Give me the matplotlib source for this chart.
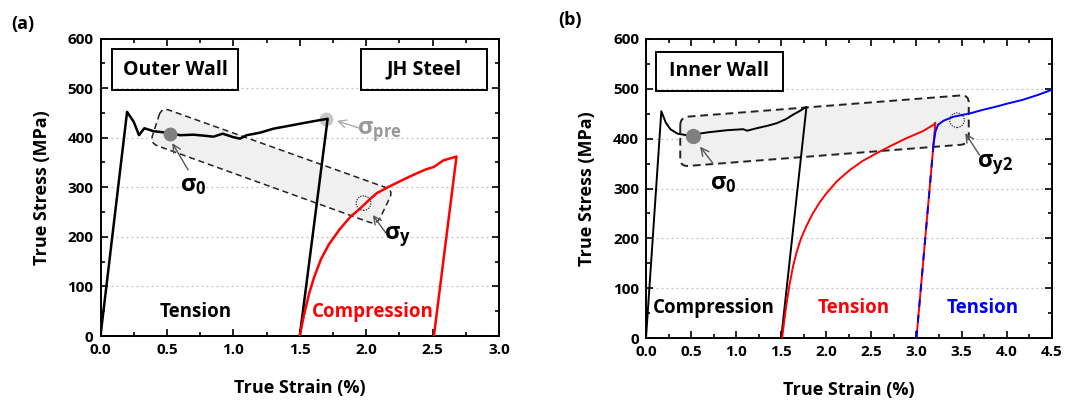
import matplotlib
matplotlib.use("Agg")
import matplotlib.pyplot as plt
import numpy as np
from matplotlib.path import Path
from matplotlib.patches import PathPatch
from matplotlib.ticker import MultipleLocator

FONT = 'Open Sans'
plt.rcParams['font.family'] = [FONT, 'DejaVu Sans']
plt.rcParams['font.weight'] = 'bold'
plt.rcParams['mathtext.fontset'] = 'custom'
plt.rcParams['mathtext.rm'] = FONT + ':bold'
plt.rcParams['mathtext.it'] = 'DejaVu Sans'

# ---------------- data: panel (a) Outer Wall ----------------
a_ten_x = [0, 0.2, 0.25, 0.29, 0.33, 0.4, 0.5, 0.6, 0.7, 0.78, 0.85, 0.92, 1.0, 1.05, 1.1,
           1.2, 1.3, 1.4, 1.5, 1.6, 1.71, 1.5]
a_ten_y = [0, 452, 432, 405, 419, 413, 410, 405, 406, 404, 402, 408, 401, 398, 405,
           410, 418, 423, 428, 433, 438, 0]
a_comp_x = [1.5, 1.53, 1.57, 1.61, 1.66, 1.72, 1.8, 1.88, 1.95, 2.02, 2.08, 2.17, 2.3, 2.38, 2.45,
            2.51, 2.58, 2.68, 2.51]
a_comp_y = [0, 40, 85, 120, 155, 185, 215, 240, 256, 274, 288, 301, 318, 328, 336, 341, 354, 362, 0]

# ---------------- data: panel (b) Inner Wall ----------------
b_comp_x = [0, 0.17, 0.22, 0.27, 0.35, 0.45, 0.55, 0.7, 0.9, 1.08, 1.12, 1.23, 1.35, 1.45, 1.55,
            1.63, 1.7, 1.78, 1.5]
b_comp_y = [0, 455, 432, 419, 410, 407, 409, 413, 417, 419, 416, 421, 426, 431, 439, 448, 455, 464, 0]
b_red_x = [1.51, 1.53, 1.56, 1.59, 1.63, 1.67, 1.72, 1.78, 1.85, 1.93, 2.0, 2.12, 2.26, 2.4, 2.56,
           2.72, 2.89, 3.07, 3.19, 3.21, 3.0]
b_red_y = [0, 30, 70, 105, 143, 172, 200, 225, 250, 273, 290, 315, 337, 355, 371, 386, 401, 415,
           428, 432, 0]
b_blue_dash_x = [3.0, 3.19]
b_blue_dash_y = [0, 390]
b_blue_x = [3.19, 3.21, 3.24, 3.3, 3.41, 3.6, 3.74, 3.9, 4.0, 4.18, 4.35, 4.5]
b_blue_y = [390, 414, 428, 436, 444, 451, 458, 465, 470, 478, 488, 498]

# annotation geometry (data units)
a_box = [(0.46, 461), (2.205, 294), (2.08, 224), (0.373, 389)]
b_box = [(0.38, 443), (3.58, 488), (3.58, 389), (0.38, 344)]

W, H = 1065, 401
fig = plt.figure(figsize=(W / 100, H / 100), dpi=100)


def rounded_poly(ax, corners, r=9, **kw):
    pts = ax.transData.transform(np.array(corners, float))
    n = len(pts)
    verts, codes = [], []
    for i in range(n):
        P = pts[i]
        A = pts[i - 1]
        B = pts[(i + 1) % n]
        p1 = P + r * (A - P) / np.linalg.norm(A - P)
        p2 = P + r * (B - P) / np.linalg.norm(B - P)
        verts.append(p1); codes.append(Path.MOVETO if i == 0 else Path.LINETO)
        verts += [P, p2]; codes += [Path.CURVE3, Path.CURVE3]
    verts.append(verts[0]); codes.append(Path.LINETO)
    verts = ax.transData.inverted().transform(np.array(verts))
    ax.add_patch(PathPatch(Path(verts, codes), transform=ax.transData, **kw))


def style_axes(ax, xmax, xmajor):
    ax.set_xlim(0, xmax)
    ax.set_ylim(0, 600)
    ax.xaxis.set_major_locator(MultipleLocator(xmajor))
    ax.xaxis.set_minor_locator(MultipleLocator(xmajor / 2))
    ax.yaxis.set_major_locator(MultipleLocator(100))
    ax.yaxis.set_minor_locator(MultipleLocator(50))
    ax.xaxis.set_major_formatter(plt.FuncFormatter(lambda v, p: f"{v:.1f}"))
    ax.tick_params(which='both', direction='in', top=True, right=True, width=1.2)
    ax.tick_params(which='major', length=5, labelsize=11, pad=5)
    ax.tick_params(which='minor', length=3)
    for s in ax.spines.values():
        s.set_linewidth(1.4)
    ax.grid(axis='y', which='major', linestyle=(0, (1.5, 2.5)), color='#c0c0c0', linewidth=0.9)
    ax.set_axisbelow(True)
    ax.set_xlabel('True Strain (%)', fontsize=13, fontweight='bold', labelpad=16)
    ax.set_ylabel('True Stress (MPa)', fontsize=13, fontweight='bold', labelpad=12)


def label_box(ax, x0, y0, x1, y1, text):
    ax.add_patch(plt.Rectangle((x0, y0), x1 - x0, y1 - y0, transform=ax.transAxes,
                               fill=False, edgecolor='black', linewidth=1.4, zorder=5))
    ax.text((x0 + x1) / 2, (y0 + y1) / 2, text, transform=ax.transAxes, ha='center', va='center',
            fontsize=14, fontweight='bold', zorder=6)


def arrow(ax, head, tail, color='#555555'):
    ax.annotate('', xy=head, xytext=tail,
                arrowprops=dict(arrowstyle='->', color=color, lw=1.0, mutation_scale=14,
                                shrinkA=0, shrinkB=0), zorder=5)


# ---------------- panel (a) ----------------
axa = fig.add_axes([100.5 / W, (H - 336) / H, 398.5 / W, 297.5 / H])
style_axes(axa, 3.0, 0.5)
rounded_poly(axa, a_box, r=8, facecolor='#f0f0f0', edgecolor='#222222', linewidth=1.1,
             linestyle=(0, (4, 2.5)), zorder=1)
axa.plot(a_ten_x, a_ten_y, color='black', lw=1.8, zorder=3)
axa.plot(a_comp_x, a_comp_y, color='#ff0000', lw=1.8, zorder=3)
axa.plot([0.52], [408], 'o', color='#808080', ms=10, mec='none', zorder=4)
axa.plot([1.7], [438], 'o', color='#c8c8c8', ms=10, mec='none', zorder=2)
axa.scatter([1.98], [268], s=110, facecolors='none', edgecolors='#333333', linewidths=0.9,
            linestyles=(0, (1, 1)), zorder=4)
arrow(axa, (0.54, 389), (0.66, 335))
arrow(axa, (1.78, 434), (1.95, 419), color='#aaaaaa')
arrow(axa, (2.05, 244), (2.15, 207))
axa.text(0.7, 305, r'$\mathregular{\sigma_0}$', fontsize=17, ha='center', va='center')
axa.text(2.1, 412, r'$\mathregular{\sigma_{pre}}$', fontsize=17, ha='center', va='center', color='#999999')
axa.text(2.24, 200, r'$\mathregular{\sigma_y}$', fontsize=17, ha='center', va='center')
axa.text(0.72, 49, 'Tension', fontsize=13.5, fontweight='bold', ha='center', va='center')
axa.text(2.05, 49, 'Compression', fontsize=13.5, fontweight='bold', ha='center', va='center', color='#ff0000')
label_box(axa, 0.030, 0.827, 0.346, 0.964, 'Outer Wall')
label_box(axa, 0.653, 0.827, 0.971, 0.964, 'JH Steel')
fig.text(23 / W, (H - 24) / H, '(a)', fontsize=13, fontweight='bold', ha='center', va='center')

# ---------------- panel (b) ----------------
axb = fig.add_axes([646 / W, (H - 338) / H, 405.7 / W, 299 / H])
style_axes(axb, 4.5, 0.5)
axb.xaxis.set_minor_locator(MultipleLocator(0.25))
rounded_poly(axb, b_box, r=8, facecolor='#f0f0f0', edgecolor='#222222', linewidth=1.4,
             linestyle=(0, (4, 2.5)), zorder=1)
axb.plot(b_comp_x, b_comp_y, color='black', lw=1.4, zorder=3)
axb.plot(b_red_x, b_red_y, color='#ff0000', lw=1.4, zorder=3)
axb.plot(b_blue_dash_x, b_blue_dash_y, color='#0000ff', lw=1.4, ls=(0, (4, 4)), zorder=4)
axb.plot(b_blue_x, b_blue_y, color='#0000ff', lw=1.4, zorder=3)
axb.plot([0.525], [406], 'o', color='#808080', ms=11, mec='none', zorder=4)
axb.scatter([3.45], [437], s=110, facecolors='none', edgecolors='#333333', linewidths=0.9,
            linestyles=(0, (1, 1)), zorder=4)
arrow(axb, (0.6, 384), (0.74, 351))
arrow(axb, (3.54, 411), (3.7, 367))
axb.text(0.86, 310, r'$\mathregular{\sigma_0}$', fontsize=17, ha='center', va='center')
axb.text(3.87, 347, r'$\mathregular{\sigma_{y2}}$', fontsize=17, ha='center', va='center')
axb.text(0.755, 60, 'Compression', fontsize=13.5, fontweight='bold', ha='center', va='center')
axb.text(2.3, 60, 'Tension', fontsize=13.5, fontweight='bold', ha='center', va='center', color='#ff0000')
axb.text(3.73, 60, 'Tension', fontsize=13.5, fontweight='bold', ha='center', va='center', color='#0000ff')
label_box(axb, 0.024, 0.826, 0.338, 0.958, 'Inner Wall')
fig.text(570 / W, (H - 20) / H, '(b)', fontsize=13, fontweight='bold', ha='center', va='center')

fig.savefig('out.png', dpi=100)
